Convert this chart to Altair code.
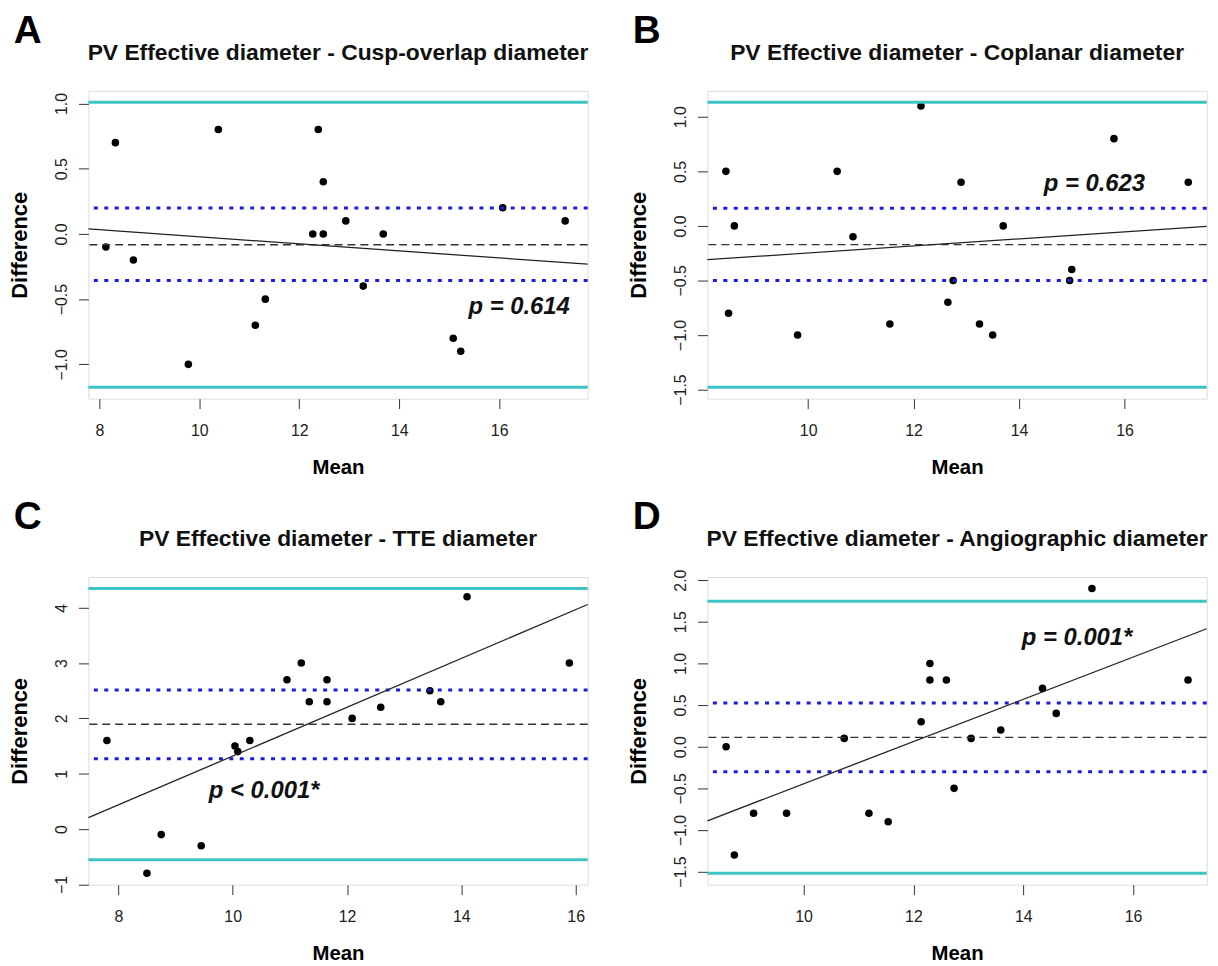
import altair as alt
import pandas as pd

# ---------------- data ----------------
# Panel A
A_letter = "A"
A_title = "PV Effective diameter - Cusp-overlap diameter"
A_mean = [8.13, 8.32, 8.68, 9.78, 10.38, 11.12, 11.32, 12.27, 12.38, 12.48, 12.48,
          12.93, 13.28, 13.68, 15.08, 15.23, 16.07, 17.32]
A_diff = [-0.1, 0.7, -0.2, -1.0, 0.8, -0.7, -0.5, 0.0, 0.8, 0.4, 0.0,
          0.1, -0.4, 0.0, -0.8, -0.9, 0.2, 0.1]
A_bias = [-0.083]
A_ci = [0.198, -0.357]
A_loa = [1.009, -1.176]
A_p = "p = 0.614"
A_p_at = [16.4, -0.56]
A_xdom = [7.78, 17.77]
A_ydom = [-1.263, 1.096]
A_xticks = [8, 10, 12, 14, 16]
A_yticks = [-1.0, -0.5, 0.0, 0.5, 1.0]

# Panel B
B_letter = "B"
B_title = "PV Effective diameter - Coplanar diameter"
B_mean = [8.44, 8.49, 8.60, 9.80, 10.55, 10.85, 11.55, 12.14, 12.65, 12.75, 12.90,
          13.25, 13.50, 13.70, 14.96, 15.00, 15.80, 17.21]
B_diff = [0.5, -0.8, 0.0, -1.0, 0.5, -0.1, -0.9, 1.1, -0.7, -0.5, 0.4,
          -0.9, -1.0, 0.0, -0.5, -0.4, 0.8, 0.4]
B_bias = [-0.172]
B_ci = [0.161, -0.500]
B_loa = [1.133, -1.479]
B_p = "p = 0.623"
B_p_at = [15.43, 0.38]
B_xdom = [8.09, 17.56]
B_ydom = [-1.584, 1.237]
B_xticks = [10, 12, 14, 16]
B_yticks = [-1.5, -1.0, -0.5, 0.0, 0.5, 1.0]

# Panel C
C_letter = "C"
C_title = "PV Effective diameter - TTE diameter"
C_mean = [7.80, 8.50, 8.75, 9.45, 10.04, 10.09, 10.30, 10.95, 11.20, 11.34, 11.65,
          11.65, 12.09, 12.59, 13.45, 13.64, 14.10, 15.89]
C_diff = [1.6, -0.8, -0.1, -0.3, 1.5, 1.4, 1.6, 2.7, 3.0, 2.3, 2.7,
          2.3, 2.0, 2.2, 2.5, 2.3, 4.2, 3.0]
C_bias = [1.894]
C_ci = [2.515, 1.272]
C_loa = [4.349, -0.556]
C_p = "p < 0.001*"
C_p_at = [10.55, 0.68]
C_xdom = [7.476, 16.21]
C_ydom = [-1.006, 4.555]
C_xticks = [8, 10, 12, 14, 16]
C_yticks = [-1, 0, 1, 2, 3, 4]

# Panel D
D_letter = "D"
D_title = "PV Effective diameter - Angiographic diameter"
D_mean = [8.59, 8.74, 9.09, 9.69, 10.74, 11.19, 11.54, 12.14, 12.30, 12.30, 12.60,
          12.74, 13.05, 13.59, 14.35, 14.60, 15.25, 17.00]
D_diff = [0.0, -1.3, -0.8, -0.8, 0.1, -0.8, -0.9, 0.3, 1.0, 0.8, 0.8,
          -0.5, 0.1, 0.2, 0.7, 0.4, 1.9, 0.8]
D_bias = [0.111]
D_ci = [0.524, -0.302]
D_loa = [1.746, -1.520]
D_p = "p = 0.001*"
D_p_at = [14.98, 1.31]
D_xdom = [8.25, 17.34]
D_ydom = [-1.657, 2.037]
D_xticks = [10, 12, 14, 16]
D_yticks = [-1.5, -1.0, -0.5, 0.0, 0.5, 1.0, 1.5, 2.0]

# ---------------- styling ----------------
W, H = 503, 310
FONT = "Liberation Sans"
CYAN = "#3cc4c4"
BLUE = "#1c1ce0"


def panel(letter, title, xs, ys, bias, ci, loa, ptext, pat, xdom, ydom, xticks, yticks, yfmt):
    pts = pd.DataFrame({"Mean": xs, "Difference": ys})
    xsc = alt.Scale(domain=xdom, nice=False, zero=False)
    ysc = alt.Scale(domain=ydom, nice=False, zero=False)
    xax = alt.Axis(values=xticks, format="d", title="Mean", grid=False, domain=False,
                   tickSize=10, tickColor="#333", labelFont=FONT, labelFontSize=16,
                   labelColor="#222", labelPadding=14, labelFlush=False,
                   titleFont=FONT, titleFontSize=20.5, titleFontWeight="bold",
                   titleColor="black", titleY=75, titleBaseline="alphabetic")
    yax = alt.Axis(values=yticks, format=yfmt, title="Difference", grid=False, domain=False,
                   tickSize=10, tickColor="#333", labelFont=FONT, labelFontSize=16,
                   labelColor="#222", labelAngle=270, labelAlign="center",
                   labelBaseline="bottom", labelPadding=9.5, labelFlush=False,
                   titleFont=FONT, titleFontSize=22, titleFontWeight="bold",
                   titleColor="black", titleAngle=270, titleX=-62.3, titleY=H / 2,
                   titleAlign="center", titleBaseline="alphabetic")

    X = alt.X("Mean:Q", scale=xsc, axis=xax)
    Y = alt.Y("Difference:Q", scale=ysc, axis=yax)

    points = alt.Chart(pts).mark_circle(size=58, color="black", opacity=1).encode(x=X, y=Y)

    def hline(vals, **kw):
        return alt.Chart(pd.DataFrame({"Difference": vals})).mark_rule(**kw).encode(y=Y)

    loa_l = hline(loa, color=CYAN, strokeWidth=3)
    ci_l = hline(ci, color=BLUE, strokeWidth=3, strokeDash=[4, 6.5])
    bias_l = hline(bias, color="#333", strokeWidth=1.3, strokeDash=[8, 5])

    reg = alt.Chart(pts).transform_regression(
        "Mean", "Difference", extent=xdom
    ).mark_line(color="#222", strokeWidth=1.3).encode(x=X, y=Y)

    ptx = alt.Chart(pd.DataFrame({"Mean": [pat[0]], "Difference": [pat[1]], "t": [ptext]})).mark_text(
        font=FONT, fontSize=24, fontWeight="bold", fontStyle="italic", color="#111",
        align="center", baseline="middle"
    ).encode(x=X, y=Y, text="t:N")

    ttl = alt.Chart(pd.DataFrame({"t": [title]})).mark_text(
        font=FONT, fontSize=23, fontWeight="bold", color="#111",
        align="center", baseline="alphabetic"
    ).encode(text="t:N", x=alt.value(W / 2), y=alt.value(-31.7))

    let = alt.Chart(pd.DataFrame({"t": [letter]})).mark_text(
        font=FONT, fontSize=39, fontWeight="bold", color="black",
        align="left", baseline="top"
    ).encode(text="t:N", x=alt.value(-75.3), y=alt.value(-79))

    return alt.layer(points, loa_l, ci_l, bias_l, reg, ptx, ttl, let).properties(width=W, height=H)


pA = panel(A_letter, A_title, A_mean, A_diff, A_bias, A_ci, A_loa, A_p, A_p_at,
           A_xdom, A_ydom, A_xticks, A_yticks, ".1f")
pB = panel(B_letter, B_title, B_mean, B_diff, B_bias, B_ci, B_loa, B_p, B_p_at,
           B_xdom, B_ydom, B_xticks, B_yticks, ".1f")
pC = panel(C_letter, C_title, C_mean, C_diff, C_bias, C_ci, C_loa, C_p, C_p_at,
           C_xdom, C_ydom, C_xticks, C_yticks, "d")
pD = panel(D_letter, D_title, D_mean, D_diff, D_bias, D_ci, D_loa, D_p, D_p_at,
           D_xdom, D_ydom, D_xticks, D_yticks, ".1f")

chart = alt.concat(
    pA, pB, pC, pD, columns=2,
    spacing={"row": 179.7, "column": 120.7},
    bounds="flush",
).properties(
    padding={"left": 0, "top": 0, "right": 0, "bottom": 0}
).configure_view(
    stroke="#3a3a3a", strokeWidth=1.5
).configure(
    background="white"
)

chart.save("out.html", embed_options={"renderer": "svg", "actions": False})
